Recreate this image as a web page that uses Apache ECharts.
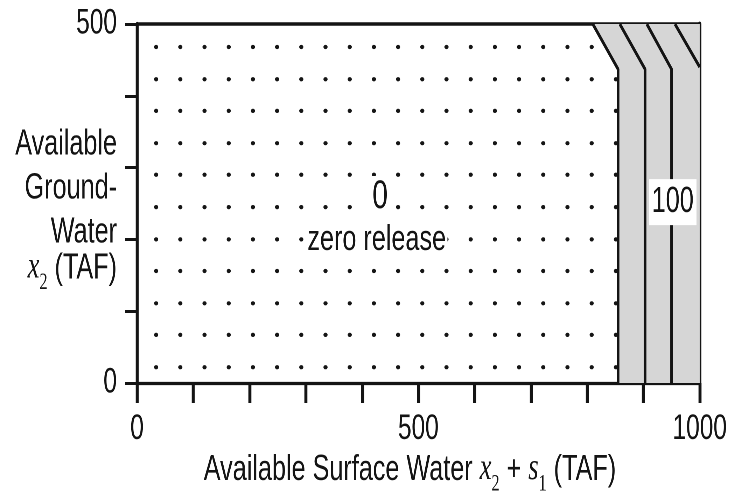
<!DOCTYPE html>
<html>
<head>
<meta charset="utf-8">
<script src="https://cdn.jsdelivr.net/npm/echarts@6/dist/echarts.min.js"></script>
<style>
html,body{margin:0;padding:0;background:#fff;overflow:hidden;}
#wrap{width:729px;height:500px;overflow:hidden;position:relative;}
#chart{width:1041px;height:500px;transform:scaleX(0.7);transform-origin:0 0;position:absolute;left:0;top:0;}
</style>
</head>
<body>
<div id="wrap"><div id="chart"></div></div>
<script>
// ---- data ----
const xTickLabels = [0, 500, 1000];
const yTickLabels = [0, 500];
// dot pattern positions (TAF)
const dotCols = [34, 77, 120, 163, 206, 249, 292, 335, 378, 421, 464, 507, 550, 593, 636, 679, 722, 765, 808, 851];
const dotRows = [22, 67, 111, 156, 200, 245, 290, 334, 379, 423, 468];
// release-contour boundaries: top-edge x, bend x, bend y
const boundaryTopX = [810, 858, 906, 956];
const boundaryBendX = [855, 903, 950, 1000];
const boundaryBendY = [437, 437, 437, 440];
// region labels
const regionLabels = [
  {name: '0', x: 432, y: 259, size: 40},
  {name: 'zero release', x: 426, y: 199, size: 36},
  {name: '100', x: 952, y: 252, size: 36}
];

// horizontal condensing of the whole drawing (text in the original is condensed)
const SX = 0.7;
const X_MIN = 0, X_MAX = 1000, Y_MIN = 0, Y_MAX = 500;
const FONT = "'Liberation Sans', Arial, sans-serif";
const SERIF = "'Liberation Serif', 'DejaVu Serif', serif";
const INK = '#141414';

const dots = [];
dotCols.forEach(x => dotRows.forEach(y => dots.push([x, y])));

const shadePolygon = [
  [boundaryTopX[0], Y_MAX], [X_MAX, Y_MAX], [X_MAX, Y_MIN],
  [boundaryBendX[0], Y_MIN], [boundaryBendX[0], boundaryBendY[0]]
];

const lineSeries = boundaryTopX.map((tx, i) => {
  const pts = [[tx, Y_MAX], [boundaryBendX[i], boundaryBendY[i]]];
  if (boundaryBendX[i] < X_MAX) pts.push([boundaryBendX[i], Y_MIN]);
  return {
    type: 'line', data: pts, symbol: 'none', z: 3, silent: true,
    lineStyle: {color: INK, width: 2.6 / SX}
  };
});

const richX = {
  i: {fontFamily: SERIF, fontStyle: 'italic', fontSize: 38, lineHeight: 48, verticalAlign: 'bottom', color: INK, padding: [0, 0, 8, 0]},
  sub: {fontFamily: SERIF, fontSize: 23, lineHeight: 23, verticalAlign: 'bottom', color: INK},
  n: {fontFamily: FONT, fontSize: 36, lineHeight: 48, verticalAlign: 'bottom', color: INK, padding: [0, 0, 8, 0]}
};
const richY = {
  i: {fontFamily: SERIF, fontStyle: 'italic', fontSize: 38, lineHeight: 44, verticalAlign: 'bottom', color: INK, padding: [0, 0, 8, 0]},
  sub: {fontFamily: SERIF, fontSize: 23, lineHeight: 23, verticalAlign: 'bottom', color: INK},
  n: {fontFamily: FONT, fontSize: 36, lineHeight: 44, verticalAlign: 'bottom', color: INK},
  n4: {fontFamily: FONT, fontSize: 36, lineHeight: 44, verticalAlign: 'bottom', color: INK, padding: [0, 0, 8, 0]}
};

const chart = echarts.init(document.getElementById('chart'), null, {devicePixelRatio: 2});
chart.setOption({
  animation: false,
  backgroundColor: '#fff',
  grid: {left: 137 / SX, right: 29 / SX, top: 24, bottom: 117, outerBoundsMode: 'none', containLabel: false},
  xAxis: [{
    type: 'value', min: X_MIN, max: X_MAX, interval: 100, position: 'bottom',
    axisLine: {show: true, onZero: false, lineStyle: {color: INK, width: 3.2}},
    axisTick: {show: true, length: 20, lineStyle: {color: INK, width: 3 / SX}},
    splitLine: {show: false},
    axisLabel: {
      color: INK, fontFamily: FONT, fontSize: 35, margin: 29,
      formatter: v => xTickLabels.includes(v) ? String(v) : ''
    },
    name: '{n|Available Surface Water }{i|x}{sub|2}{n| + }{i|s}{sub|1}{n| (TAF)}',
    nameLocation: 'middle', nameGap: 65, nameMoveOverlap: false,
    nameTextStyle: {color: INK, fontFamily: FONT, fontSize: 36, rich: richX, padding: [0, 24, 0, 0]}
  }, {
    type: 'value', min: X_MIN, max: X_MAX, position: 'top',
    axisLine: {show: true, onZero: false, lineStyle: {color: INK, width: 3.6}},
    axisTick: {show: false}, axisLabel: {show: false}, splitLine: {show: false}
  }],
  yAxis: [{
    type: 'value', min: Y_MIN, max: Y_MAX, interval: 100, position: 'left',
    axisLine: {show: true, onZero: false, lineStyle: {color: INK, width: 3 / SX}},
    axisTick: {show: true, length: 12 / SX, lineStyle: {color: INK, width: 3}},
    splitLine: {show: false},
    axisLabel: {
      color: INK, fontFamily: FONT, fontSize: 35, margin: 20 / SX,
      formatter: v => yTickLabels.includes(v) ? String(v) : ''
    },
    name: '{n|Available}\n{n|Ground-}\n{n|Water}\n{i|x}{sub|2}{n4| (TAF)}',
    nameLocation: 'middle', nameRotate: 0, nameGap: 20 / SX, nameMoveOverlap: false,
    nameTextStyle: {color: INK, fontFamily: FONT, fontSize: 36, align: 'right', verticalAlign: 'middle', rich: richY, padding: [6, 0, 0, 0]}
  }, {
    type: 'value', min: Y_MIN, max: Y_MAX, position: 'right',
    axisLine: {show: true, onZero: false, lineStyle: {color: INK, width: 3.4 / SX}},
    axisTick: {show: false}, axisLabel: {show: false}, splitLine: {show: false}
  }],
  series: [
    {
      type: 'scatter', data: dots, symbol: 'circle', symbolSize: [4.2 / SX, 4.2], z: 1, silent: true,
      itemStyle: {color: '#151515', opacity: 1}
    },
    {
      type: 'custom', data: shadePolygon, z: 2, silent: true, clip: true,
      encode: {x: 0, y: 1},
      renderItem: (params, api) => {
        if (params.dataIndex !== 0) return null;
        const pts = shadePolygon.map(p => api.coord(p));
        return {type: 'polygon', shape: {points: pts}, style: {fill: '#d6d6d6'}};
      }
    },
    ...lineSeries,
    {
      type: 'scatter', z: 5, silent: true, symbolSize: 1,
      itemStyle: {color: 'rgba(0,0,0,0)', opacity: 1},
      data: regionLabels.map(l => ({
        name: l.name, value: [l.x, l.y],
        label: {
          show: true, position: 'inside', formatter: '{b}',
          fontFamily: FONT, fontSize: l.size, color: INK, lineHeight: l.size + 2,
          backgroundColor: '#fff', padding: l.name === '100' ? [4, 4] : [0, 2]
        }
      }))
    }
  ]
});
</script>
</body>
</html>
